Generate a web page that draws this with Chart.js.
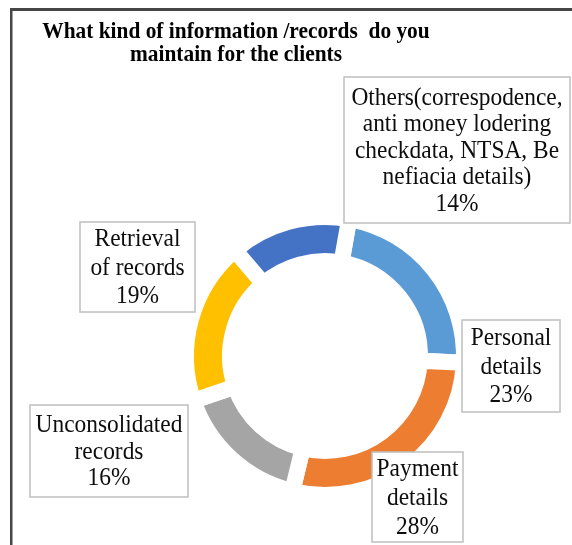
<!DOCTYPE html>
<html><head><meta charset="utf-8">
<script src="https://cdn.jsdelivr.net/npm/chart.js@4.4.1/dist/chart.umd.min.js"></script>
<style>html,body{margin:0;padding:0;background:#fff;overflow:hidden}canvas{display:block}</style>
</head><body>
<canvas id="c" width="572" height="545"></canvas>
<script>
const categories = ["Personal details","Payment details","Unconsolidated records","Retrieval of records","Others(correspodence, anti money lodering checkdata, NTSA, Be nefiacia details)"];
const labelLines = [["Personal","details"],["Payment","details"],["Unconsolidated","records"],["Retrieval","of records"],["Others(correspodence,","anti money lodering","checkdata, NTSA, Be","nefiacia details)"]];
const values = [23,28,16,19,14];
const colors = ["#5B9BD5","#ED7D31","#A5A5A5","#FFC000","#4472C4"];
const titleLines = ["What kind of information /records  do you","maintain for the clients"];

// label box layout: box centre offset from doughnut centre, box size, line height
const boxLayout = [
  {dx:186,   dy:10,   w:98,  h:92,  lh:28.5},
  {dx:92.5,  dy:141,  w:91,  h:90,  lh:29},
  {dx:-216,  dy:95,   w:158, h:92,  lh:26.5},
  {dx:-187.5,dy:-89,  w:115, h:90,  lh:28.5},
  {dx:132,   dy:-206, w:226, h:146, lh:26.5}
];

function scaledText(ctx, txt, x, y, sx){
  ctx.save();
  ctx.scale(sx, 1);
  ctx.fillText(txt, x / sx, y);
  ctx.restore();
}

const decor = {
  id:'decor',
  afterDraw(chart){
    const ctx = chart.ctx;
    ctx.save();
    // frame
    ctx.fillStyle = '#464646';
    ctx.fillRect(10, 8, 562, 3);
    ctx.fillRect(10, 8, 2.5, 537);
    // title
    ctx.fillStyle = '#000';
    ctx.font = 'bold 22.5px "Liberation Serif", "Times New Roman", serif';
    ctx.textAlign = 'center';
    ctx.textBaseline = 'alphabetic';
    scaledText(ctx, titleLines[0], 236, 38, 0.95);
    scaledText(ctx, titleLines[1], 236, 61, 0.95);
    // labels
    const meta = chart.getDatasetMeta(0);
    const total = values.reduce((a,b)=>a+b,0);
    meta.data.forEach((arc, i) => {
      const L = boxLayout[i];
      const cx = arc.x + L.dx, cy = arc.y + L.dy;
      ctx.fillStyle = '#fff';
      ctx.fillRect(cx - L.w/2, cy - L.h/2, L.w, L.h);
      ctx.strokeStyle = '#BFBFBF';
      ctx.lineWidth = 1.5;
      ctx.strokeRect(cx - L.w/2, cy - L.h/2, L.w, L.h);
      const lines = labelLines[i].concat([Math.round(values[i]/total*100) + '%']);
      ctx.fillStyle = '#0d0d0d';
      ctx.font = '26px "Liberation Serif", "Times New Roman", serif';
      ctx.textAlign = 'center';
      ctx.textBaseline = 'middle';
      const n = lines.length;
      lines.forEach((t, k) => {
        scaledText(ctx, t, cx, cy + (k - (n-1)/2) * L.lh + 1, 0.9);
      });
    });
    ctx.restore();
  }
};

new Chart(document.getElementById('c'), {
  type: 'doughnut',
  data: {
    labels: categories,
    datasets: [{
      data: values,
      backgroundColor: colors,
      borderColor: '#ffffff',
      borderWidth: 16,
      borderJoinStyle: 'miter',
      hoverOffset: 0
    }]
  },
  options: {
    responsive: false,
    animation: false,
    rotation: 10,
    cutout: '68.3%',
    layout: { padding: { left: 178, right: 100, top: 209, bottom: 42 } },
    plugins: { legend: { display: false }, tooltip: { enabled: false }, title: { display: false } }
  },
  plugins: [decor]
});
</script>
</body></html>
